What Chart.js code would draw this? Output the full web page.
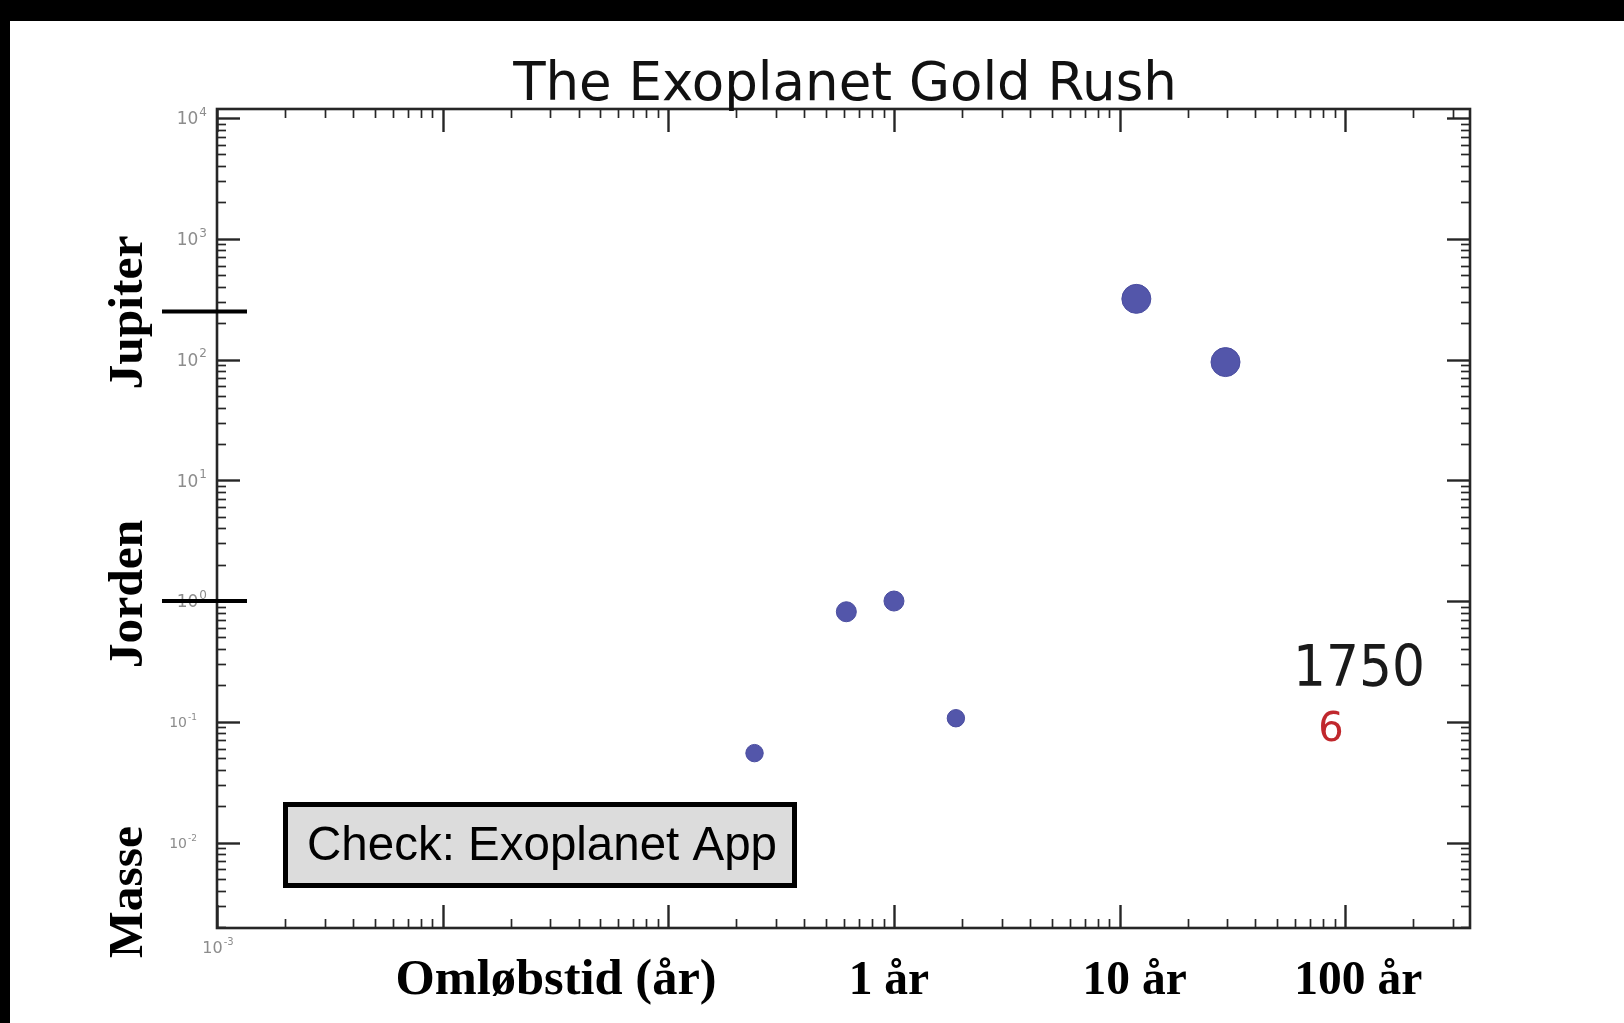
<!DOCTYPE html>
<html><head><meta charset="utf-8">
<script src="https://cdn.jsdelivr.net/npm/chart.js@4/dist/chart.umd.min.js"></script>
<style>html,body{margin:0;padding:0;background:#fff;overflow:hidden}canvas{display:block}</style>
</head><body><canvas id="c" width="1624" height="1023"></canvas>
<script>
// ---- data (Solar-system planets known in 1750) ----
const planetNames = ['Merkur', 'Venus', 'Jorden', 'Mars', 'Jupiter', 'Saturn'];
const orbitalPeriodYears = [0.241, 0.615, 1.0, 1.881, 11.86, 29.46];
const massEarths = [0.055, 0.815, 1.0, 0.107, 317.8, 95.2];
const xRange = [0.001, 357];
const yRange = [0.00196, 11870];
const yTickExponents = [4, 3, 2, 1, 0, -1, -2];
const xTickExponentsLabelled = [-3];
const xCategoryLabels = ['1 år', '10 år', '100 år'];
const xCategoryValues = [1, 10, 100];
const xAxisTitle = 'Omløbstid (år)';
const sideLabels = ['Jupiter', 'Jorden', 'Masse'];
const massMarkerValues = [250, 1];
const chartTitle = 'The Exoplanet Gold Rush';
const yearText = '1750';
const countText = '6';
const boxText = 'Check: Exoplanet App';

function supLabel(ctx, exp, x, y, align, base, sup, color) {
  const e = String(exp);
  ctx.save();
  ctx.fillStyle = color;
  ctx.textBaseline = 'middle';
  ctx.font = base + 'px "DejaVu Sans"';
  const w1 = ctx.measureText('10').width;
  ctx.font = sup + 'px "DejaVu Sans"';
  const w2 = ctx.measureText(e).width;
  let x0 = align === 'right' ? x - w1 - w2 - 1 : (align === 'center' ? x - (w1 + w2 + 1) / 2 : x);
  ctx.font = base + 'px "DejaVu Sans"';
  ctx.textAlign = 'left';
  ctx.fillText('10', x0, y);
  ctx.font = sup + 'px "DejaVu Sans"';
  ctx.fillText(e, x0 + w1 + 1, y - base * 0.42);
  ctx.restore();
}

const decor = {
  id: 'decor',
  beforeDraw(chart) {
    const ctx = chart.ctx;
    ctx.save();
    ctx.fillStyle = '#fff';
    ctx.fillRect(0, 0, chart.width, chart.height);
    ctx.fillStyle = '#000';
    ctx.fillRect(0, 0, chart.width, 21);
    ctx.fillRect(0, 0, 10, chart.height);
    ctx.restore();
  },
  beforeDatasetsDraw(chart) {
    const ctx = chart.ctx, xs = chart.scales.x, ys = chart.scales.y, a = chart.chartArea;
    ctx.save();
    ctx.strokeStyle = '#262626';
    const line = (x1, y1, x2, y2) => { ctx.beginPath(); ctx.moveTo(x1, y1); ctx.lineTo(x2, y2); ctx.stroke(); };
    for (let e = -3; e <= 2; e++) for (let m = 1; m <= 9; m++) {
      const v = m * Math.pow(10, e);
      if (v < xRange[0] * 0.999 || v > xRange[1]) continue;
      const px = Math.round(xs.getPixelForValue(v)) + 0.5;
      const L = m === 1 ? 23 : 9;
      ctx.lineWidth = m === 1 ? 2.4 : 1.7;
      line(px, a.bottom, px, a.bottom - L);
      line(px, a.top, px, a.top + L);
    }
    for (let e = -3; e <= 4; e++) for (let m = 1; m <= 9; m++) {
      const v = m * Math.pow(10, e);
      if (v < yRange[0] || v > yRange[1]) continue;
      const py = Math.round(ys.getPixelForValue(v)) + 0.5;
      const L = m === 1 ? 23 : 9;
      ctx.lineWidth = m === 1 ? 2.4 : 1.7;
      line(a.left, py, a.left + L, py);
      line(a.right, py, a.right - L, py);
    }
    ctx.lineWidth = 2.6;
    ctx.strokeRect(a.left, a.top, a.right - a.left, a.bottom - a.top);
    ctx.restore();
  },
  afterDraw(chart) {
    const ctx = chart.ctx, xs = chart.scales.x, ys = chart.scales.y, a = chart.chartArea;
    ctx.save();
    // y tick labels
    yTickExponents.forEach(e => {
      if (e < 0) supLabel(ctx, e, 197, ys.getPixelForValue(Math.pow(10, e)) + 2, 'right', 14, 9, '#8c8c8c');
      else supLabel(ctx, e, 207, ys.getPixelForValue(Math.pow(10, e)) + 2, 'right', 17, 12, '#8c8c8c');
    });
    xTickExponentsLabelled.forEach(e => {
      supLabel(ctx, e, xs.getPixelForValue(Math.pow(10, e)) + 1, 949, 'center', 16, 10, '#8c8c8c');
    });
    // title
    ctx.fillStyle = '#111';
    ctx.font = '53px "DejaVu Sans"';
    ctx.textAlign = 'center';
    ctx.textBaseline = 'alphabetic';
    ctx.fillText(chartTitle, 845, 100);
    // mass markers
    ctx.strokeStyle = '#000';
    ctx.lineWidth = 4;
    massMarkerValues.forEach(v => {
      const py = ys.getPixelForValue(v);
      ctx.beginPath(); ctx.moveTo(162, py); ctx.lineTo(247, py); ctx.stroke();
    });
    // side labels (rotated)
    ctx.fillStyle = '#000';
    ctx.font = 'bold 49.5px "Liberation Serif"';
    const sideY = [ys.getPixelForValue(massMarkerValues[0]) + 1, ys.getPixelForValue(massMarkerValues[1]) - 7, 892];
    sideLabels.forEach((t, i) => {
      ctx.save();
      ctx.translate(142, sideY[i]);
      ctx.rotate(-Math.PI / 2);
      ctx.textAlign = 'center';
      ctx.fillText(t, 0, 0);
      ctx.restore();
    });
    // bottom labels
    ctx.textAlign = 'center';
    ctx.font = 'bold 50.5px "Liberation Serif"';
    ctx.fillText(xAxisTitle, 556, 994);
    ctx.font = 'bold 47.5px "Liberation Serif"';
    const offs = [-5, 15, 13];
    xCategoryLabels.forEach((t, i) => {
      ctx.fillText(t, xs.getPixelForValue(xCategoryValues[i]) + offs[i], 994);
    });
    // year + count
    ctx.save();
    ctx.fillStyle = '#1a1a1a';
    ctx.font = '57px "DejaVu Sans"';
    ctx.translate(1359, 686);
    ctx.scale(0.91, 1);
    ctx.textAlign = 'center';
    ctx.fillText(yearText, 0, 0);
    ctx.restore();
    ctx.fillStyle = '#c0282d';
    ctx.font = '40px "DejaVu Sans"';
    ctx.textAlign = 'center';
    ctx.fillText(countText, 1331, 741);
    // box
    ctx.fillStyle = '#dcdcdc';
    ctx.fillRect(285, 804, 510, 82);
    ctx.strokeStyle = '#000';
    ctx.lineWidth = 5;
    ctx.strokeRect(285.5, 804.5, 509, 81);
    ctx.fillStyle = '#000';
    ctx.font = '47.5px "Liberation Sans"';
    ctx.textAlign = 'left';
    ctx.fillText(boxText, 307, 860);
    ctx.restore();
  }
};

new Chart(document.getElementById('c'), {
  type: 'scatter',
  data: {
    labels: planetNames,
    datasets: [{
      label: 'Planeter',
      data: orbitalPeriodYears.map((p, i) => ({ x: p, y: massEarths[i] })),
      backgroundColor: '#5356aa',
      borderColor: '#4a4da0',
      borderWidth: 1,
      pointRadius: c => { const m = massEarths[c.dataIndex]; return m > 10 ? 14.5 : (m > 0.5 ? 10 : 8.7); }
    }]
  },
  options: {
    responsive: false,
    animation: false,
    devicePixelRatio: 1,
    layout: { padding: { left: 217, top: 109, right: 154, bottom: 95 } },
    plugins: { legend: { display: false }, tooltip: { enabled: false }, title: { display: false } },
    scales: {
      x: { type: 'logarithmic', min: xRange[0], max: xRange[1], display: false },
      y: { type: 'logarithmic', min: yRange[0], max: yRange[1], display: false }
    }
  },
  plugins: [decor]
});
</script>
</body></html>
